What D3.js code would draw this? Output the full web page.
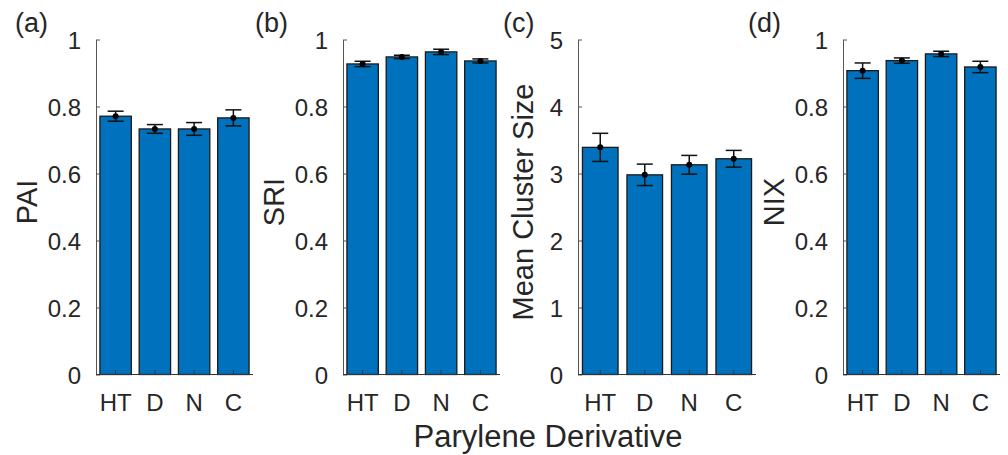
<!DOCTYPE html>
<html><head><meta charset="utf-8">
<script src="https://cdn.jsdelivr.net/npm/d3@7"></script>
<style>body{margin:0;background:#fff}svg{display:block}text{font-family:"Liberation Sans",Arial,sans-serif;fill:#262626}</style>
</head><body><svg id="c" width="1008" height="455"></svg>
<script>
const categories = ["HT","D","N","C"];
const paiMean = [0.771, 0.733, 0.733, 0.766];
const paiErr  = [0.015, 0.013, 0.019, 0.024];
const sriMean = [0.927, 0.948, 0.963, 0.936];
const sriErr  = [0.008, 0.005, 0.008, 0.006];
const mcsMean = [3.39, 2.98, 3.13, 3.22];
const mcsErr  = [0.21, 0.16, 0.14, 0.125];
const nixMean = [0.907, 0.937, 0.957, 0.918];
const nixErr  = [0.023, 0.008, 0.008, 0.017];
const unitTicks = [0, 0.2, 0.4, 0.6, 0.8, 1];
const mcsTicks = [0, 1, 2, 3, 4, 5];

const panels = [
  {tag:"(a)", label:"PAI", mean:paiMean, err:paiErr, ticks:unitTicks, max:1, x0:96, x1:253, lx:15, ylx:37},
  {tag:"(b)", label:"SRI", mean:sriMean, err:sriErr, ticks:unitTicks, max:1, x0:343, x1:500, lx:255, ylx:284},
  {tag:"(c)", label:"Mean Cluster Size", mean:mcsMean, err:mcsErr, ticks:mcsTicks, max:5, x0:578, x1:756, lx:503, ylx:533},
  {tag:"(d)", label:"NIX", mean:nixMean, err:nixErr, ticks:unitTicks, max:1, x0:843, x1:1000, lx:748, ylx:784}
];
const yTop = 39.5, yBot = 374.5;
const svg = d3.select("#c");

panels.forEach(p => {
  const g = svg.append("g");
  const x = d3.scaleBand().domain(categories).range([p.x0, p.x1]).paddingInner(0.2).paddingOuter(0.1);
  const y = d3.scaleLinear().domain([0, p.max]).range([yBot, yTop]);
  // bars
  g.selectAll("rect").data(p.mean).join("rect")
    .attr("x", (d,i) => x(categories[i]))
    .attr("width", x.bandwidth())
    .attr("y", d => y(d))
    .attr("height", d => yBot - y(d))
    .attr("fill", "#0072BD").attr("stroke", "#1a1a1a").attr("stroke-width", 1.3);
  // y axis
  const ya = d3.axisLeft(y).tickValues(p.ticks).tickSizeInner(-4).tickSizeOuter(0).tickPadding(15)
    .tickFormat(d => String(d));
  const yg = g.append("g").attr("transform", `translate(${p.x0},0)`).call(ya);
  yg.select(".domain").attr("stroke", "#555").attr("stroke-width", 1);
  yg.selectAll(".tick line").attr("stroke", "#555");
  yg.selectAll("text").style("font-size", "24px").attr("fill", "#262626").attr("dy", "0.36em");
  // x axis
  const xa = d3.axisBottom(x).tickSizeInner(-4).tickSizeOuter(0).tickPadding(19);
  const xg = g.append("g").attr("transform", `translate(0,${yBot})`).call(xa);
  xg.select(".domain").attr("stroke", "#333").attr("stroke-width", 1.2).attr("d", `M${p.x0},0H${p.x1}`);
  xg.selectAll(".tick line").attr("stroke", "#333");
  xg.selectAll("text").style("font-size", "24px").attr("fill", "#262626");
  // error bars
  const eb = g.append("g").attr("stroke", "#111").attr("stroke-width", 1.5);
  p.mean.forEach((m,i) => {
    const cx = x(categories[i]) + x.bandwidth()/2;
    const lo = y(m - p.err[i]), hi = y(m + p.err[i]);
    eb.append("line").attr("x1", cx).attr("x2", cx).attr("y1", lo).attr("y2", hi);
    eb.append("line").attr("x1", cx-8).attr("x2", cx+8).attr("y1", lo).attr("y2", lo);
    eb.append("line").attr("x1", cx-8).attr("x2", cx+8).attr("y1", hi).attr("y2", hi);
    g.append("circle").attr("cx", cx).attr("cy", y(m)).attr("r", 3).attr("fill", "#000");
  });
  // y label
  g.append("text").attr("transform", `translate(${p.ylx},${(yTop+yBot)/2 - 5}) rotate(-90)`)
    .attr("text-anchor", "middle").style("font-size", "29px").text(p.label);
  // panel tag
  g.append("text").attr("x", p.lx).attr("y", 32).style("font-size", "27px").text(p.tag);
});

svg.append("text").attr("x", 548).attr("y", 447).attr("text-anchor", "middle")
  .style("font-size", "31px").text("Parylene Derivative");
</script></body></html>
